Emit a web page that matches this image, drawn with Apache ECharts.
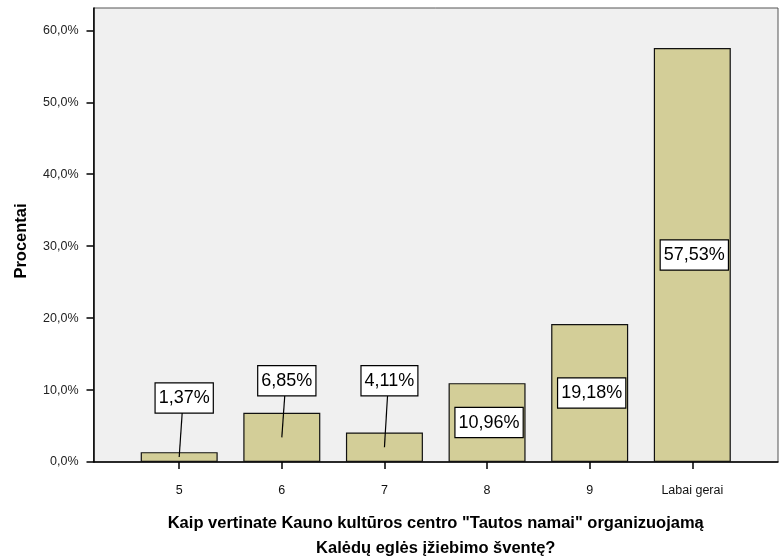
<!DOCTYPE html>
<html>
<head>
<meta charset="utf-8">
<script src="https://cdn.jsdelivr.net/npm/echarts@6/dist/echarts.min.js"></script>
<style>
html, body { margin: 0; padding: 0; background: #fff; }
#chart { width: 782px; height: 558px; }
</style>
</head>
<body>
<div id="chart"></div>
<script>
const categories = ['5', '6', '7', '8', '9', 'Labai gerai']
const percents = [1.37, 6.85, 4.11, 10.96, 19.18, 57.53]
const yTicks = [0, 10, 20, 30, 40, 50, 60]

// labels of the short bars sit above them on a leader line (value where the box sits)
const calloutAt = { 0: 8.9, 1: 11.3, 2: 11.3 }

const FONT = '"Liberation Sans", Arial, sans-serif'
const pct1 = v => v.toFixed(1).replace('.', ',') + '%'
const pct2 = v => v.toFixed(2).replace('.', ',') + '%'
const xPositions = categories.map((c, i) => i)

const chart = echarts.init(document.getElementById('chart'))

chart.setOption({
  backgroundColor: '#fff',
  animation: false,
  grid: {
    left: 93.5,
    right: 4,
    top: 8,
    bottom: 96,
    outerBoundsMode: 'none',
    containLabel: false,
    show: true,
    backgroundColor: '#f0f0f0',
    borderColor: '#555',
    borderWidth: 1,
  },
  xAxis: {
    type: 'value',
    min: -0.835,
    max: 5.835,
    splitLine: { show: false },
    axisLine: { show: true, onZero: false, lineStyle: { color: '#000', width: 1.5 } },
    axisTick: { show: true, length: 7, customValues: xPositions, lineStyle: { color: '#000', width: 1.5 } },
    axisLabel: {
      customValues: xPositions,
      formatter: v => categories[Math.round(v)],
      margin: 22,
      fontSize: 12.5,
      fontFamily: FONT,
      color: '#111',
    },
    name: 'Kaip vertinate Kauno kultūros centro "Tautos namai" organizuojamą\nKalėdų eglės įžiebimo šventę?',
    nameLocation: 'middle',
    nameGap: 49,
    nameTextStyle: {
      fontSize: 16.5,
      fontWeight: 'bold',
      fontFamily: FONT,
      color: '#000',
      lineHeight: 25,
    },
  },
  yAxis: {
    type: 'value',
    min: 0,
    max: 63.1,
    splitLine: { show: false },
    axisLine: { show: true, onZero: false, lineStyle: { color: '#000', width: 1.5 } },
    axisTick: { show: true, length: 7, customValues: yTicks, lineStyle: { color: '#000', width: 1.5 } },
    axisLabel: {
      customValues: yTicks,
      formatter: pct1,
      margin: 15,
      fontSize: 12.5,
      fontFamily: FONT,
      color: '#222',
    },
    name: 'Procentai',
    nameLocation: 'middle',
    nameGap: 64,
    nameTextStyle: {
      fontSize: 16.5,
      fontWeight: 'bold',
      fontFamily: FONT,
      color: '#000',
      padding: [0, 12, 0, 0],
    },
  },
  series: [
    {
      type: 'bar',
      data: percents.map((v, i) => [i, v]),
      barWidth: 77,
      itemStyle: {
        color: '#d3ce98',
        borderColor: '#111',
        borderWidth: 1.2,
      },
    },
    {
      type: 'custom',
      z: 5,
      data: percents.map((v, i) => [i, v]),
      encode: { x: 0, y: 1 },
      renderItem(params, api) {
        const i = api.value(0)
        const v = api.value(1)
        const mid = api.coord([i, v / 2])
        const boxStyle = {
          text: pct2(v),
          font: '18px ' + FONT,
          fill: '#000',
          align: 'center',
          verticalAlign: 'middle',
          textAlign: 'center',
          textVerticalAlign: 'middle',
          backgroundColor: '#fff',
          borderColor: '#000',
          borderWidth: 1.2,
          padding: [6, 3, 5, 3],
        }
        if (calloutAt[i] != null) {
          const top = api.coord([i, calloutAt[i]])
          return {
            type: 'group',
            children: [
              {
                type: 'line',
                shape: { x1: mid[0], y1: mid[1], x2: top[0] + 4, y2: top[1] },
                style: { stroke: '#000', lineWidth: 1.2 },
              },
              { type: 'text', x: top[0] + 5, y: top[1], style: boxStyle },
            ],
          }
        }
        return { type: 'text', x: mid[0] + 2, y: mid[1], style: boxStyle }
      },
    },
  ],
})
</script>
</body>
</html>
